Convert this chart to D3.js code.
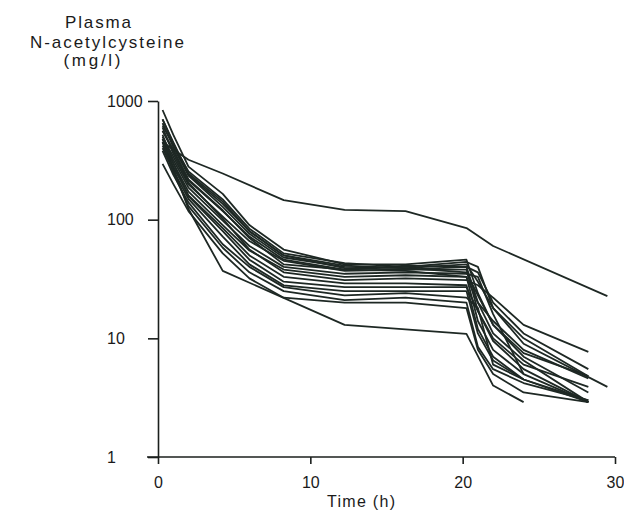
<!DOCTYPE html>
<html>
<head>
<meta charset="utf-8">
<script src="https://cdn.jsdelivr.net/npm/d3@7/dist/d3.min.js"></script>
<style>
  html, body { margin: 0; padding: 0; background: #ffffff; }
  svg { display: block; }
  text { font-family: "Liberation Sans", Arial, sans-serif; fill: #1a1a1a; }
</style>
</head>
<body>
<svg id="chart" width="624" height="512"></svg>
<script>
// Sampling times (h); null in a series = no sample at that time
const times = [0.3, 1, 2, 4.25, 6, 8.25, 12.25, 16.25, 20.25, 21, 22, 24, 28.25, 29.5];

// Plasma N-acetylcysteine (mg/l), one array per patient
const patientA = [450, null, 320, 245, null, 146, 121, 118, 85, null, 60, null, null, 22.7];
const patientB = [480, null, 123, 37, null, null, 13, null, 10.9, null, 4.0, 2.9, null, null];
const patientC = [840, 520, 280, 165, 90, 56, 42, 42, 46, 24, 13, 7.5, 4.8, null];
const patientD = [620, 430, 255, 148, 84, 52, 43, 40, 44, 40, 18, 9, null, 3.9];
const patientE = [700, 440, 235, 128, 76, 48, 40, 39, 42, 30, 18, 10, 4.8, null];
const patientF = [560, 380, 215, 118, 72, 46, 38, 41, 40, 20, 11, 6.5, 2.9, null];
const patientG = [500, 340, 198, 106, 66, 45, 37, 38, 38, 17, 9.5, 5.5, 2.9, null];
const patientH = [650, 410, 238, 136, 80, 50, 41, 39, 36, 23, 13, 7, 3.5, null];
const patientI = [480, 320, 186, 98, 60, 40, 35, 36, 35, 33, 16, 5, null, null];
const patientJ = [450, 300, 172, 90, 55, 38, 33, 34, 33, 14, 8, 5, 2.9, null];
const patientK = [600, 360, 205, 102, 56, 36, 31, 32, 31, 28, 22, 13, 7.7, null];
const patientL = [420, 280, 160, 85, 50, 33, 29, 29, 28, 12, 7, 4.5, 2.9, null];
const patientM = [520, 300, 158, 80, 46, 30, 27, 27, 27, 17, 10, 6, 3.9, null];
const patientN = [400, 260, 150, 72, 42, 28, 25, 25, 25, 11, 6.5, 4.5, 3.0, null];
const patientO = [380, 240, 140, 62, 40, 27, 23, 24, 22, 18, 6, 4.5, null, null];
const patientP = [450, 250, 130, 58, 36, 25, 21, 22, 20, 8.5, 5.5, 4.2, 3.0, null];
const patientQ = [295, 200, 118, 52, 32, 22, 20, 20, 18, 8, 5, 3.5, 2.9, null];
const patientR = [560, 390, 218, 120, 70, 42, 38, 37, 33, 20, 14, 8, 4.6, null];
const patientS = [700, 450, 245, 142, 80, 50, 39, 38, 40, 36, 20, 11, 5.5, null];

const seriesList = [patientA, patientB, patientC, patientD, patientE, patientF, patientG,
  patientH, patientI, patientJ, patientK, patientL, patientM, patientN, patientO,
  patientP, patientQ, patientR, patientS];

// Axis ticks and labels
const xTicks = [0, 10, 20, 30];
const yTicks = [1, 10, 100, 1000];
const titleLines = ["Plasma", "N-acetylcysteine", "(mg/l)"];
const xTitle = "Time (h)";

const svg = d3.select("#chart");
const x = d3.scaleLinear().domain([0, 30]).range([158, 615]);
const y = d3.scaleLog().domain([1, 1000]).range([457, 101]);

const ink = "#1b1f1d";

// Y axis
const yAxis = d3.axisLeft(y).tickValues(yTicks).tickSize(10).tickSizeOuter(0).tickFormat(d3.format("d"));
const gy = svg.append("g").attr("transform", `translate(${x(0)},0)`).call(yAxis);
gy.select(".domain").attr("stroke", ink).attr("stroke-width", 1.6);
gy.selectAll(".tick line").attr("stroke", ink).attr("stroke-width", 1.6);
gy.selectAll(".tick text")
  .attr("x", 107 - x(0)).attr("text-anchor", "start")
  .attr("font-size", 16).attr("fill", ink)
  .attr("font-family", "Liberation Sans, Arial, sans-serif");

// X axis
const xAxis = d3.axisBottom(x).tickValues(xTicks).tickSize(7).tickSizeOuter(0).tickFormat(d3.format("d"));
const gx = svg.append("g").attr("transform", `translate(0,${y(1)})`).call(xAxis);
gx.select(".domain").attr("stroke", ink).attr("stroke-width", 1.6)
  .attr("d", `M${x(0) - 11},0H${x(30)}`);
gx.selectAll(".tick line").attr("stroke", ink).attr("stroke-width", 1.6);
gx.selectAll(".tick text")
  .attr("y", 31).attr("dy", 0)
  .attr("font-size", 16).attr("fill", ink)
  .attr("font-family", "Liberation Sans, Arial, sans-serif");

// Curves
const line = d3.line()
  .x(d => x(d[0]))
  .y(d => y(d[1]));

svg.append("g").selectAll("path")
  .data(seriesList.map(s => times.map((t, i) => [t, s[i]]).filter(p => p[1] != null)))
  .join("path")
  .attr("d", line)
  .attr("fill", "none")
  .attr("stroke", "#1e2824")
  .attr("stroke-width", 1.8)
  .attr("stroke-linejoin", "round");

// Y title
const titleX = [98, 107, 92];
const titleY = [28, 48, 66];
const titleW = [66, 154, 57];
svg.append("g").selectAll("text")
  .data(titleLines)
  .join("text")
  .attr("x", (d, i) => titleX[i])
  .attr("y", (d, i) => titleY[i])
  .attr("text-anchor", "middle")
  .attr("font-size", 17)
  .attr("textLength", (d, i) => titleW[i])
  .attr("lengthAdjust", "spacing")
  .attr("fill", ink)
  .text(d => d);

// X title
svg.append("text")
  .attr("x", 361).attr("y", 507)
  .attr("text-anchor", "middle")
  .attr("font-size", 16)
  .attr("textLength", 68)
  .attr("lengthAdjust", "spacing")
  .attr("fill", ink)
  .text(xTitle);
</script>
</body>
</html>
